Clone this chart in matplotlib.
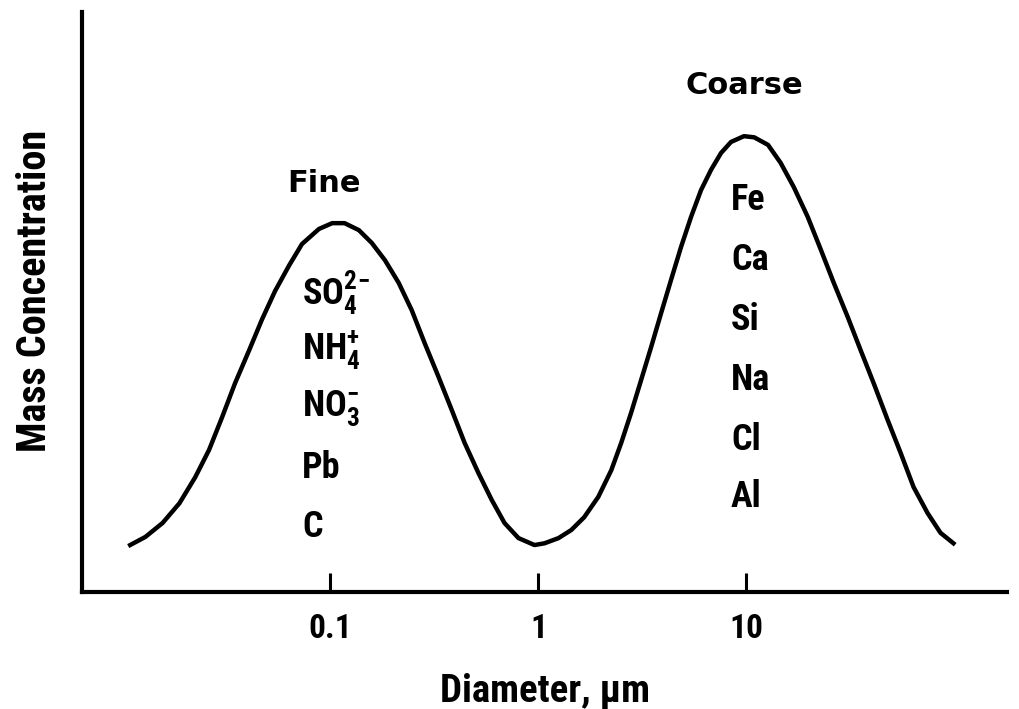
import matplotlib
matplotlib.use("Agg")
import matplotlib.pyplot as plt
from matplotlib import font_manager

# Fine mode (diameter in um, relative mass concentration)
fine_d = [0.0109, 0.0129, 0.0156, 0.0188, 0.0224, 0.0261, 0.0302, 0.0348, 0.0407,
          0.0469, 0.0542, 0.0633, 0.0730, 0.0881, 0.102, 0.117, 0.137, 0.158,
          0.183, 0.213, 0.246, 0.284, 0.331, 0.383, 0.442, 0.515, 0.596, 0.687,
          0.802, 0.957]
fine_c = [0.081, 0.095, 0.119, 0.153, 0.198, 0.245, 0.302, 0.360, 0.417,
          0.470, 0.519, 0.563, 0.600, 0.626, 0.636, 0.636, 0.624, 0.602,
          0.572, 0.533, 0.486, 0.429, 0.371, 0.314, 0.257, 0.205, 0.159, 0.119,
          0.093, 0.081]

# Coarse mode
coarse_d = [1.07, 1.25, 1.44, 1.66, 1.94, 2.24, 2.50, 2.79, 3.12, 3.48, 3.89,
            4.34, 4.85, 5.42, 6.05, 6.76, 7.55, 8.43, 9.73, 10.9, 12.7, 14.6,
            16.9, 19.7, 22.8, 26.3, 30.7, 35.4, 40.9, 47.7, 55.1, 63.6, 74.3,
            85.7, 98.9]
coarse_c = [0.084, 0.093, 0.107, 0.129, 0.164, 0.210, 0.257, 0.309, 0.366, 0.422,
            0.481, 0.538, 0.595, 0.647, 0.693, 0.728, 0.757, 0.776, 0.786, 0.784,
            0.771, 0.740, 0.698, 0.647, 0.590, 0.533, 0.474, 0.417, 0.360, 0.297,
            0.240, 0.181, 0.136, 0.102, 0.084]

fine_species = [r'SO$_4^{2\!-}$', r'NH$_4^{+}$', r'NO$_3^{-}$', 'Pb', 'C']
coarse_species = ['Fe', 'Ca', 'Si', 'Na', 'Cl', 'Al']
tick_vals = [0.1, 1, 10]
tick_labels = ['0.1', '1', '10']

# pick a narrow bold face if there is one
have = {f.name for f in font_manager.fontManager.ttflist}
narrow = 'Liberation Sans'
for cand in ['Liberation Sans Narrow', 'DejaVu Sans Condensed', 'Roboto Condensed']:
    if cand in have:
        narrow = cand
        break

plt.rcParams['font.family'] = [narrow, 'DejaVu Sans']
plt.rcParams['font.weight'] = 'bold'
plt.rcParams['mathtext.fontset'] = 'custom'
plt.rcParams['mathtext.rm'] = narrow + ':bold'
plt.rcParams['mathtext.it'] = narrow + ':bold'
plt.rcParams['mathtext.bf'] = narrow + ':bold'

fig = plt.figure(figsize=(10.19, 7.09), dpi=100)
ax = fig.add_axes([0.0805, 0.165, 0.908, 0.818])

d = fine_d + coarse_d
c = fine_c + coarse_c
ax.plot(d, c, color='black', lw=3.2, solid_joinstyle='round')

ax.set_xscale('log')
ax.set_xlim(10 ** -2.194, 10 ** 2.254)
ax.set_ylim(0, 1)

ax.spines['top'].set_visible(False)
ax.spines['right'].set_visible(False)
ax.spines['left'].set_linewidth(3)
ax.spines['bottom'].set_linewidth(3)

ax.set_yticks([])
ax.set_xticks(tick_vals)
ax.set_xticklabels(tick_labels)
ax.xaxis.set_minor_locator(matplotlib.ticker.NullLocator())
ax.tick_params(axis='x', direction='in', length=14, width=2.2, pad=15,
               labelsize=24)

ax.set_xlabel('Diameter, µm', fontsize=28, fontweight='bold', labelpad=20)
ax.set_ylabel('Mass Concentration', fontsize=29, fontweight='bold')
ax.yaxis.set_label_coords(-0.03, 0.52)

ax.text(0.093, 0.705, 'Fine', fontsize=22, fontweight='bold',
        family='DejaVu Sans', ha='center', va='center')
ax.text(9.73, 0.874, 'Coarse', fontsize=22, fontweight='bold',
        family='DejaVu Sans', ha='center', va='center')

fine_y = [0.516, 0.417, 0.317, 0.213, 0.112]
for lab, yy in zip(fine_species, fine_y):
    ax.text(0.073, yy, lab, fontsize=26, ha='left', va='center')

coarse_y = [0.676, 0.572, 0.469, 0.366, 0.262, 0.164]
for lab, yy in zip(coarse_species, coarse_y):
    ax.text(8.43, yy, lab, fontsize=26, ha='left', va='center')

fig.savefig('out.png', dpi=100)
